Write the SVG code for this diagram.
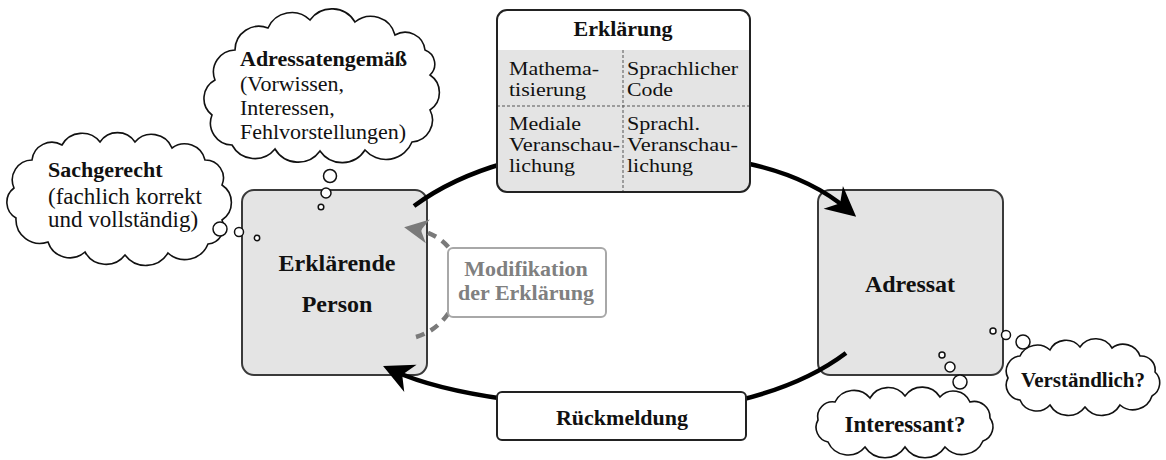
<svg xmlns="http://www.w3.org/2000/svg" width="1166" height="460" viewBox="0 0 1166 460">
<style>
text{font-family:"Liberation Serif","Times New Roman",serif;fill:#111;font-size:22px}
.b{font-weight:bold}
.m{text-anchor:middle}
.c{font-size:18px}
.box{fill:#e4e4e4;stroke:#3a3a3a;stroke-width:2}
.cloud{fill:#fff;stroke:#111;stroke-width:1.6}
.bub{fill:#fff;stroke:#111;stroke-width:1.5}
.arc{fill:none;stroke:#000;stroke-width:4.5}
.dash{fill:none;stroke:#7a7a7a;stroke-width:4.5;stroke-dasharray:9 7}
.div{stroke:#555;stroke-width:1;stroke-dasharray:3 2;fill:none}
</style>
<defs>
<marker id="ah" markerUnits="userSpaceOnUse" viewBox="-20 -17 34 34" markerWidth="34" markerHeight="34" refX="0" refY="0" orient="auto"><path d="M12,0 L-18,-15 L-9,0 L-18,15 Z" fill="#000"/></marker>
<marker id="ahg" markerUnits="userSpaceOnUse" viewBox="-18 -15 30 30" markerWidth="30" markerHeight="30" refX="0" refY="0" orient="auto"><path d="M10,0 L-14,-12 L-7,0 L-14,12 Z" fill="#7a7a7a"/></marker>
</defs>

<g id="node-erklaerende-person">
<rect class="box" x="242" y="190" width="185" height="185" rx="12"/>
<text class="b m" x="337" y="271" style="font-size:24px">Erklärende</text>
<text class="b m" x="337" y="312" style="font-size:24px">Person</text>
</g>

<g id="node-adressat">
<rect class="box" x="818" y="190" width="185" height="185" rx="12"/>
<text class="b m" x="910" y="292" style="font-size:24px">Adressat</text>
</g>

<g id="cloud-adressatengemaess">
<path class="cloud" d="M430,75 A21,21 0 0 1 430,110 A22,22 0 0 1 412,142 A28,28 0 0 1 365,150 A27,27 0 0 1 320,151 A27,27 0 0 1 275,149 A26,26 0 0 1 232,145 A22,22 0 0 1 212,115 A21,21 0 0 1 215,80 A22,22 0 0 1 235,50 A24,24 0 0 1 268,28 A26,26 0 0 1 310,20 A27,27 0 0 1 355,22 A25,25 0 0 1 395,35 A20,20 0 0 1 425,50 A15,15 0 0 1 430,75 Z"/>
<circle class="bub" cx="330" cy="176" r="6.5"/>
<circle class="bub" cx="326" cy="193" r="5"/>
<circle class="bub" cx="321" cy="207" r="2.8"/>
<text class="b" x="240" y="66">Adressatengemäß</text>
<text x="240" y="91">(Vorwissen,</text>
<text x="240" y="115">Interessen,</text>
<text x="240" y="139">Fehlvorstellungen)</text>
</g>

<g id="cloud-sachgerecht">
<path class="cloud" d="M222,185 A21,21 0 0 1 222,220 A17,17 0 0 1 208,244 A25,25 0 0 1 168,253 A26,26 0 0 1 125,255 A24,24 0 0 1 85,252 A23,23 0 0 1 48,242 A24,24 0 0 1 16,218 A18,18 0 0 1 14,188 A20,20 0 0 1 32,160 A20,20 0 0 1 62,145 A23,23 0 0 1 100,142 A21,21 0 0 1 135,142 A22,22 0 0 1 172,148 A21,21 0 0 1 205,160 A18,18 0 0 1 222,185 Z"/>
<circle class="bub" cx="220" cy="229" r="7"/>
<circle class="bub" cx="239" cy="232" r="4.5"/>
<circle class="bub" cx="257" cy="238" r="2.7"/>
<text class="b" x="48" y="177">Sachgerecht</text>
<text x="48" y="204" style="font-size:23px">(fachlich korrekt</text>
<text x="48" y="227" style="font-size:23px">und vollständig)</text>
</g>

<g id="cloud-verstaendlich">
<path class="cloud" d="M1155,372 A15,15 0 0 1 1152,396 A20,20 0 0 1 1120,405 A21,21 0 0 1 1085,407 A21,21 0 0 1 1050,405 A18,18 0 0 1 1020,400 A15,15 0 0 1 1008,378 A15,15 0 0 1 1020,356 A19,19 0 0 1 1050,350 A18,18 0 0 1 1080,347 A19,19 0 0 1 1112,348 A18,18 0 0 1 1140,356 A14,14 0 0 1 1155,372 Z"/>
<circle class="bub" cx="993" cy="331" r="3"/>
<circle class="bub" cx="1006" cy="335" r="4.5"/>
<circle class="bub" cx="1023" cy="342" r="7"/>
<text class="b m" x="1083" y="387" style="font-size:21px">Verständlich?</text>
</g>

<g id="cloud-interessant">
<path class="cloud" d="M990,418 A15,15 0 0 1 983,441 A23,23 0 0 1 945,447 A24,24 0 0 1 905,447 A24,24 0 0 1 865,447 A22,22 0 0 1 828,442 A15,15 0 0 1 818,420 A15,15 0 0 1 835,402 A21,21 0 0 1 870,398 A21,21 0 0 1 905,396 A21,21 0 0 1 940,397 A18,18 0 0 1 970,402 A16,16 0 0 1 990,418 Z"/>
<circle class="bub" cx="942" cy="355" r="3"/>
<circle class="bub" cx="950" cy="367" r="5"/>
<circle class="bub" cx="960" cy="382" r="7"/>
<text class="b m" x="905" y="432" style="font-size:23px">Interessant?</text>
</g>

<g id="connectors">
<path class="arc" d="M414,206 Q452,178 505,163"/>
<path class="arc" d="M745,163 Q808,176 847,209" marker-end="url(#ah)"/>
<path class="arc" d="M846,353 Q805,384 740,400"/>
<path class="arc" d="M505,399 Q434,389 394,371" marker-end="url(#ah)"/>
<path class="dash" d="M416,337 C468,322 480,240 414,229" marker-end="url(#ahg)"/>
</g>

<g id="node-erklaerung">
<rect x="497" y="10" width="253" height="182" rx="10" fill="#fff"/>
<path d="M497,50 H750 V182 A10,10 0 0 1 740,192 H507 A10,10 0 0 1 497,182 Z" fill="#e4e4e4"/>
<line class="div" x1="623" y1="50" x2="623" y2="192"/>
<line class="div" x1="497" y1="106" x2="750" y2="106"/>
<rect x="497" y="10" width="253" height="182" rx="10" fill="none" stroke="#222" stroke-width="2"/>
<text class="b m" x="623" y="36">Erklärung</text>
<text class="c" x="509" y="75" textLength="90" lengthAdjust="spacingAndGlyphs">Mathema-</text>
<text class="c" x="509" y="96" textLength="77" lengthAdjust="spacingAndGlyphs">tisierung</text>
<text class="c" x="627" y="75" textLength="111" lengthAdjust="spacingAndGlyphs">Sprachlicher</text>
<text class="c" x="627" y="96" textLength="46" lengthAdjust="spacingAndGlyphs">Code</text>
<text class="c" x="509" y="130" textLength="72" lengthAdjust="spacingAndGlyphs">Mediale</text>
<text class="c" x="509" y="151" textLength="111" lengthAdjust="spacingAndGlyphs">Veranschau-</text>
<text class="c" x="509" y="172" textLength="66" lengthAdjust="spacingAndGlyphs">lichung</text>
<text class="c" x="627" y="130" textLength="73" lengthAdjust="spacingAndGlyphs">Sprachl.</text>
<text class="c" x="627" y="151" textLength="111" lengthAdjust="spacingAndGlyphs">Veranschau-</text>
<text class="c" x="627" y="172" textLength="66" lengthAdjust="spacingAndGlyphs">lichung</text>
</g>

<g id="node-rueckmeldung">
<rect x="497" y="392" width="249" height="48" rx="5" fill="#fff" stroke="#222" stroke-width="2"/>
<text class="b m" x="622" y="425">Rückmeldung</text>
</g>

<g id="node-modifikation">
<rect x="448" y="248" width="158" height="69" rx="5" fill="#fff" stroke="#a8a8a8" stroke-width="2"/>
<text class="b m" x="526" y="276" style="fill:#808080">Modifikation</text>
<text class="b m" x="526" y="300" style="fill:#808080">der Erklärung</text>
</g>
</svg>
